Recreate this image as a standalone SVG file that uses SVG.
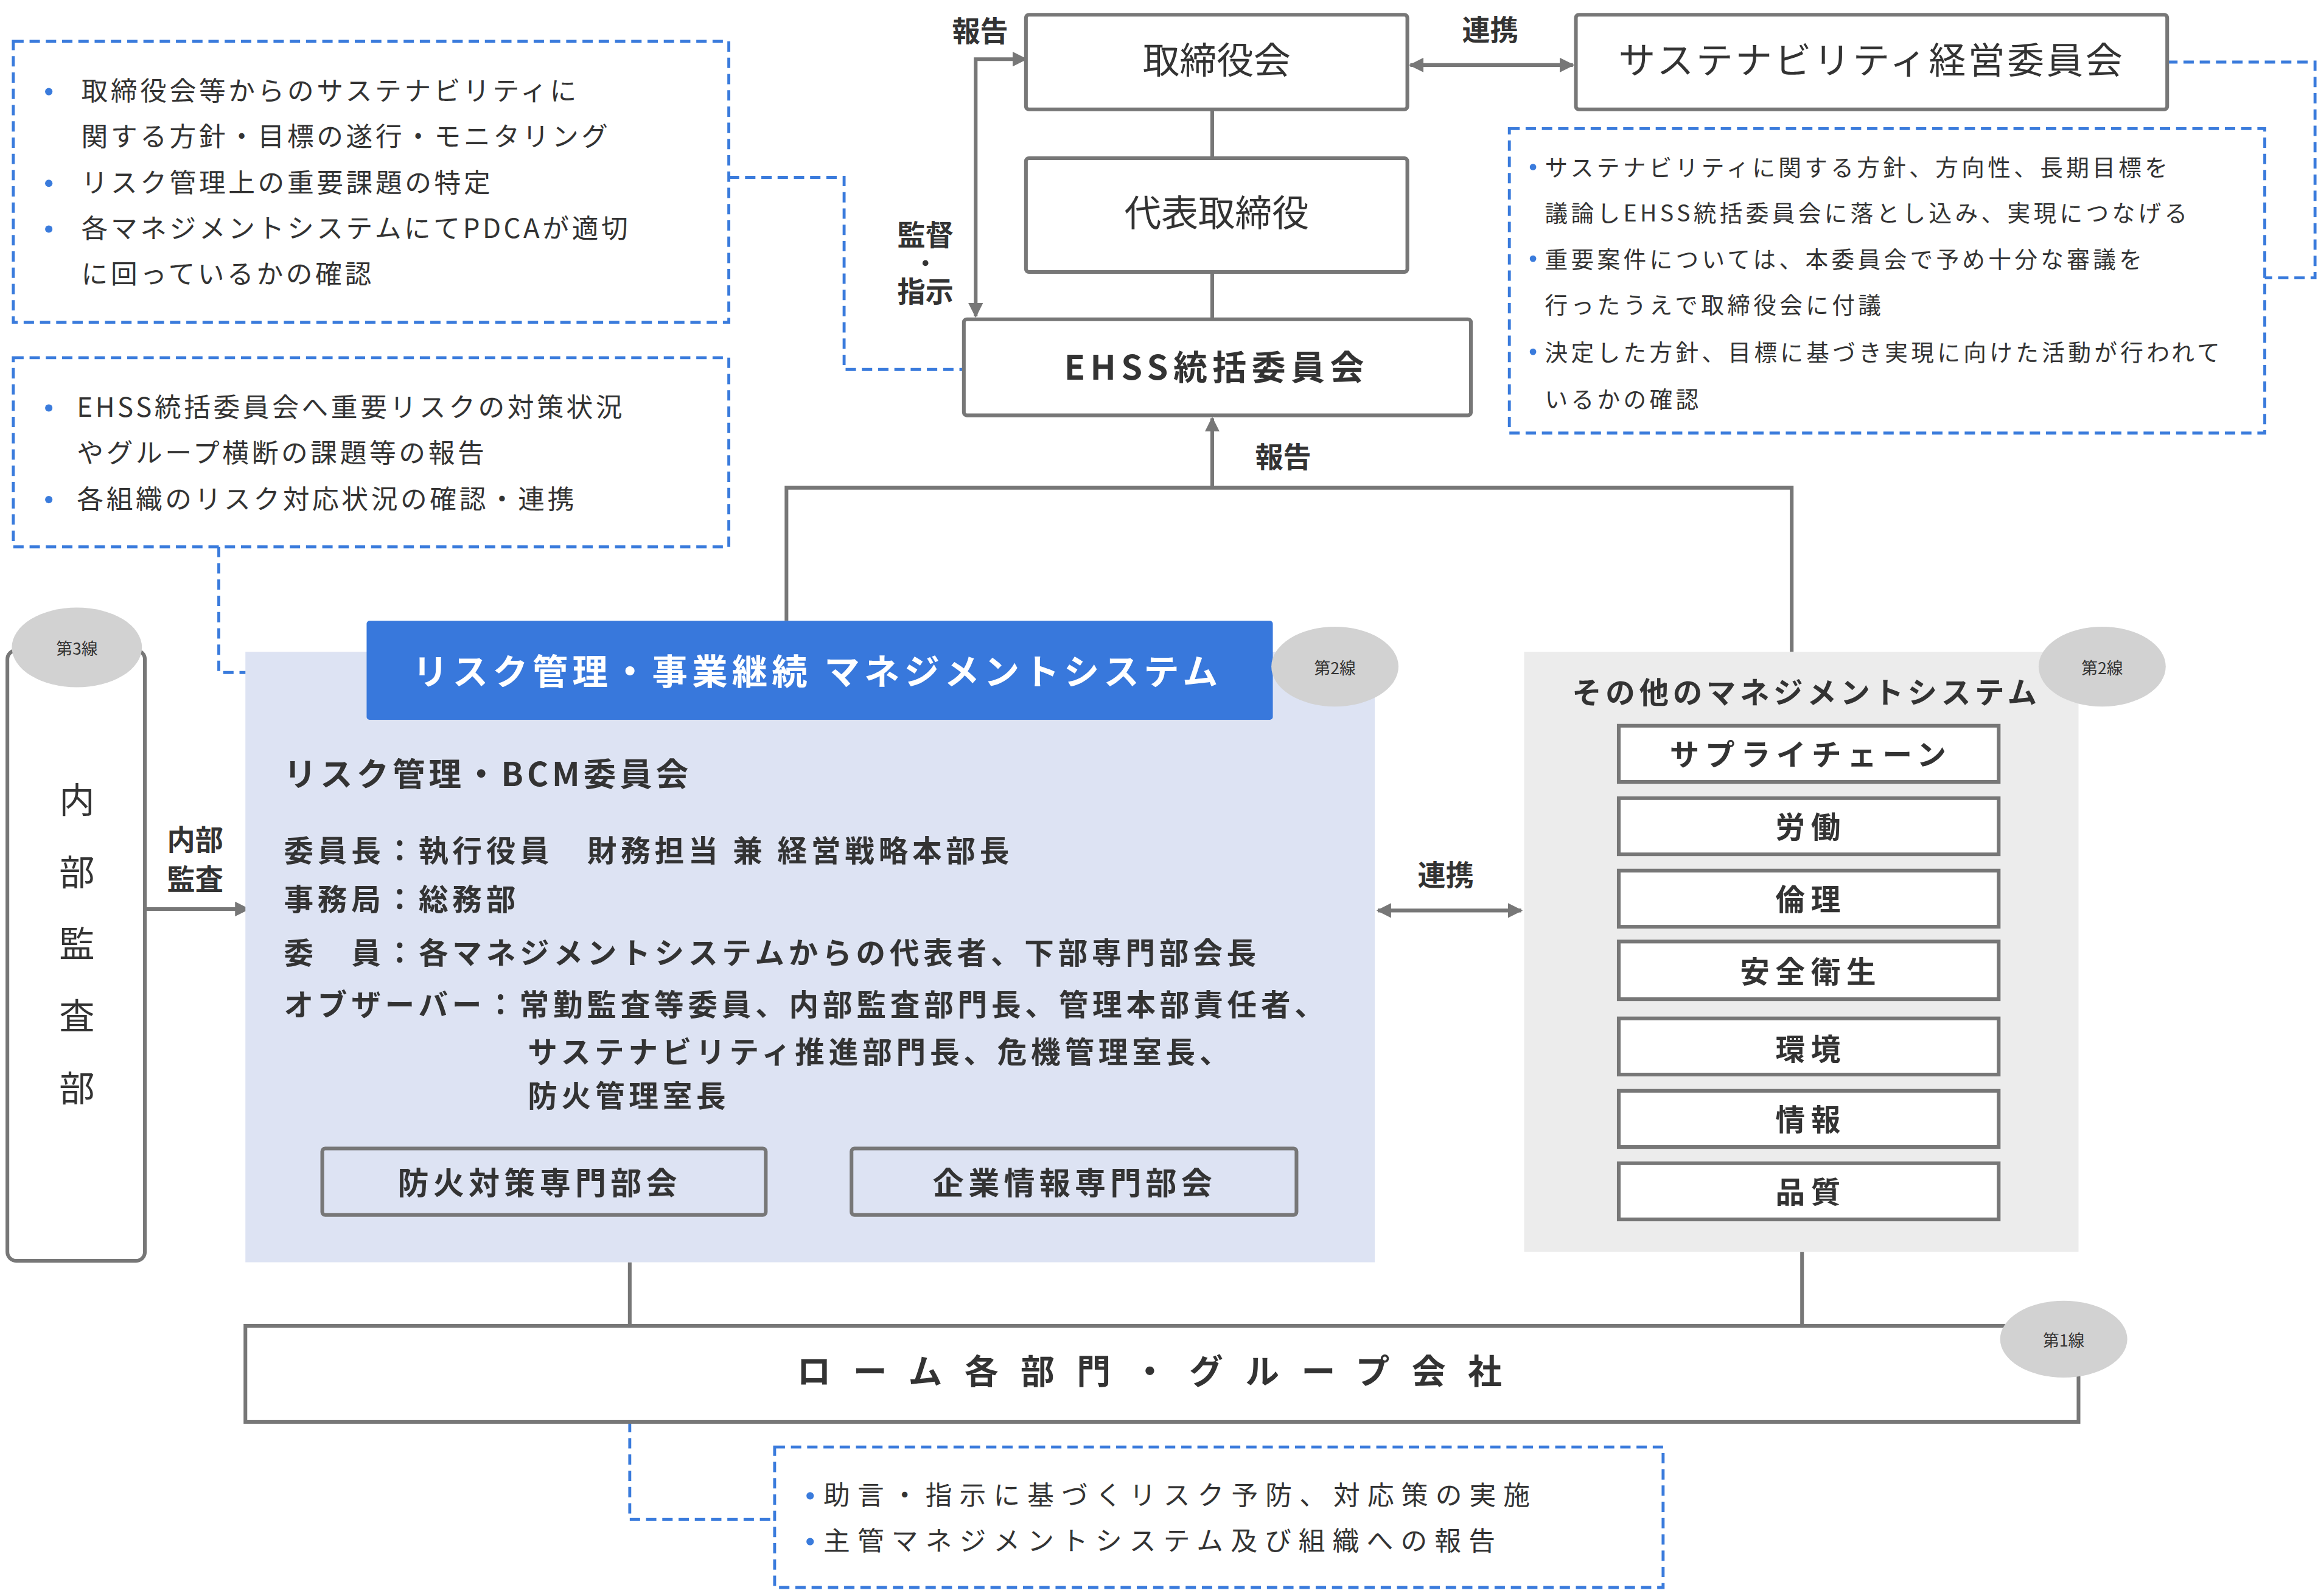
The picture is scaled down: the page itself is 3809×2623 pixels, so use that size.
<svg xmlns="http://www.w3.org/2000/svg" width="3809" height="2623" viewBox="0 0 3809 2623">
<defs>
<style>
text{font-family:"Noto Sans CJK JP","Noto Sans",sans-serif;fill:#333}
.b{font-weight:bold}
.box{fill:#fff;stroke:#777;stroke-width:2.5}
.ln{fill:none;stroke:#777;stroke-width:2.5}
.dash{fill:none;stroke:#3a7bdc;stroke-width:2;stroke-dasharray:7 4}
.circ{fill:#d2d2d2}
.bul{fill:#3a7bdc}
</style>
<marker id="ar" viewBox="0 0 10 10" refX="9" refY="5" markerWidth="4" markerHeight="4" orient="auto-start-reverse"><path d="M0,0L10,5L0,10z" fill="#777"/></marker>
</defs>
<rect width="3809" height="2623" fill="#fff"/>
<g transform="scale(2.4292)">
<g id="connectors">
<path class="ln" d="M694,40H660V214" marker-start="url(#ar)" marker-end="url(#ar)"/>
<path class="ln" d="M954,44H1064" marker-start="url(#ar)" marker-end="url(#ar)"/>
<path class="ln" d="M820,74V107M820,184V216"/>
<path class="ln" d="M820,330V283" marker-end="url(#ar)"/>
<path class="ln" d="M532,420V330H1212V441"/>
<path class="ln" d="M98,615H168" marker-end="url(#ar)"/>
<path class="ln" d="M932,616H1029" marker-start="url(#ar)" marker-end="url(#ar)"/>
<path class="ln" d="M426,854V897M1219,847V897"/>
<path class="dash" d="M493,120H571V250H652"/>
<path class="dash" d="M148,370V455H248"/>
<path class="dash" d="M1466,42H1566V188H1532"/>
<path class="dash" d="M426,962V1028H524"/>
<text class="b" x="663" y="28" font-size="19" text-anchor="middle">報告</text>
<text class="b" x="1008" y="27" font-size="19" text-anchor="middle">連携</text>
<text class="b" x="626" y="166" font-size="19" text-anchor="middle">監督</text>
<circle cx="626" cy="178" r="2" fill="#333"/>
<text class="b" x="626" y="204" font-size="19" text-anchor="middle">指示</text>
<text class="b" x="868" y="316" font-size="19" text-anchor="middle">報告</text>
<text class="b" x="132" y="575" font-size="19" text-anchor="middle">内部</text>
<text class="b" x="132" y="602" font-size="19" text-anchor="middle">監査</text>
<text class="b" x="978" y="599" font-size="19" text-anchor="middle">連携</text>
</g>
<g id="n-board"><rect class="box" x="694" y="10" width="258" height="64" rx="2"/><text x="823" y="50" font-size="25" text-anchor="middle">取締役会</text></g>
<g id="n-sust"><rect class="box" x="1066" y="10" width="400" height="64" rx="2"/><text x="1266" y="50" font-size="25" text-anchor="middle" letter-spacing="1.5">サステナビリティ経営委員会</text></g>
<g id="n-ceo"><rect class="box" x="694" y="107" width="258" height="77" rx="2"/><text x="823" y="153" font-size="25" text-anchor="middle">代表取締役</text></g>
<g id="n-ehss"><rect class="box" x="652" y="216" width="343" height="65" rx="2"/><text class="b" x="823" y="257" font-size="23" text-anchor="middle" letter-spacing="3.5">EHSS統括委員会</text></g>
<g id="n-note1"><rect class="dash" x="9" y="28" width="484" height="190"/>
<g font-size="18" letter-spacing="1.9"><circle class="bul" cx="33" cy="62" r="2.5"/><text x="55" y="68">取締役会等からのサステナビリティに</text><text x="55" y="99">関する方針・目標の遂行・モニタリング</text><circle class="bul" cx="33" cy="124" r="2.5"/><text x="55" y="130">リスク管理上の重要課題の特定</text><circle class="bul" cx="33" cy="155" r="2.5"/><text x="55" y="161">各マネジメントシステムにてPDCAが適切</text><text x="55" y="192">に回っているかの確認</text></g></g>
<g id="n-note2"><rect class="dash" x="9" y="242" width="484" height="128"/>
<g font-size="18" letter-spacing="1.9"><circle class="bul" cx="33" cy="276" r="2.5"/><text x="52" y="282">EHSS統括委員会へ重要リスクの対策状況</text><text x="52" y="313">やグループ横断の課題等の報告</text><circle class="bul" cx="33" cy="338" r="2.5"/><text x="52" y="344">各組織のリスク対応状況の確認・連携</text></g></g>
<g id="n-note3"><rect class="dash" x="1021" y="87" width="511" height="206"/>
<g font-size="15.5" letter-spacing="2.2"><circle class="bul" cx="1037" cy="113" r="2.2"/><text x="1045" y="119">サステナビリティに関する方針、方向性、長期目標を</text><text x="1045" y="150">議論しEHSS統括委員会に落とし込み、実現につなげる</text><circle class="bul" cx="1037" cy="175" r="2.2"/><text x="1045" y="181">重要案件については、本委員会で予め十分な審議を</text><text x="1045" y="212">行ったうえで取締役会に付議</text><circle class="bul" cx="1037" cy="238" r="2.2"/><text x="1045" y="244">決定した方針、目標に基づき実現に向けた活動が行われて</text><text x="1045" y="276">いるかの確認</text></g></g>
<g id="n-audit"><rect class="box" x="5" y="440" width="93" height="413" rx="6"/><ellipse class="circ" cx="52" cy="438" rx="44" ry="27"/><text x="52" y="443" font-size="11" text-anchor="middle">第3線</text>
<g font-size="24" text-anchor="middle"><text x="52" y="550">内</text><text x="52" y="599">部</text><text x="52" y="647">監</text><text x="52" y="696">査</text><text x="52" y="745">部</text></g></g>
<g id="n-risk"><rect x="166" y="441" width="764" height="413" fill="#dde3f3"/>
<rect x="248" y="420" width="613" height="67" rx="2" fill="#3878dc"/><text class="b" x="553" y="463" font-size="24" text-anchor="middle" style="fill:#fff" letter-spacing="3">リスク管理・事業継続 マネジメントシステム</text>
<ellipse class="circ" cx="903" cy="451" rx="43" ry="27"/><text x="903" y="456" font-size="11" text-anchor="middle">第2線</text>
<text class="b" x="192" y="532" font-size="22" letter-spacing="2.5">リスク管理・BCM委員会</text>
<g class="b" font-size="20" letter-spacing="2.8"><text x="192" y="583">委員長：執行役員　財務担当 兼 経営戦略本部長</text><text x="192" y="616">事務局：総務部</text><text x="192" y="652">委　員：各マネジメントシステムからの代表者、下部専門部会長</text><text x="192" y="687">オブザーバー：常勤監査等委員、内部監査部門長、管理本部責任者、</text><text x="357" y="719">サステナビリティ推進部門長、危機管理室長、</text><text x="357" y="749">防火管理室長</text></g>
<rect x="218" y="777" width="300" height="45" fill="none" stroke="#777" stroke-width="2.5" rx="2"/><text class="b" x="365" y="808" font-size="21" text-anchor="middle" letter-spacing="3">防火対策専門部会</text>
<rect x="576" y="777" width="301" height="45" fill="none" stroke="#777" stroke-width="2.5" rx="2"/><text class="b" x="727" y="808" font-size="21" text-anchor="middle" letter-spacing="3">企業情報専門部会</text></g>
<g id="n-other"><rect x="1031" y="441" width="375" height="406" fill="#ececec"/>
<ellipse class="circ" cx="1422" cy="451" rx="43" ry="27"/><text x="1422" y="456" font-size="11" text-anchor="middle">第2線</text>
<text class="b" x="1222" y="476" font-size="20" text-anchor="middle" letter-spacing="2.7">その他のマネジメントシステム</text>
<g class="b" font-size="20" text-anchor="middle" letter-spacing="4">
<rect class="box" x="1095" y="491" width="257" height="38"/><text x="1225" y="518">サプライチェーン</text>
<rect class="box" x="1095" y="540" width="257" height="38"/><text x="1225" y="567">労働</text>
<rect class="box" x="1095" y="589" width="257" height="38"/><text x="1225" y="616">倫理</text>
<rect class="box" x="1095" y="637" width="257" height="39"/><text x="1225" y="665">安全衛生</text>
<rect class="box" x="1095" y="689" width="257" height="38"/><text x="1225" y="717">環境</text>
<rect class="box" x="1095" y="738" width="257" height="38"/><text x="1225" y="765">情報</text>
<rect class="box" x="1095" y="787" width="257" height="38"/><text x="1225" y="814">品質</text></g></g>
<g id="n-group"><rect class="box" x="166" y="897" width="1240" height="65"/><text class="b" x="785" y="936" font-size="23" text-anchor="middle" letter-spacing="15">ローム各部門・グループ会社</text>
<ellipse class="circ" cx="1396" cy="906" rx="43" ry="26"/><text x="1396" y="911" font-size="11" text-anchor="middle">第1線</text></g>
<g id="n-note4"><rect class="dash" x="524" y="979" width="601" height="95"/>
<g font-size="18" letter-spacing="5"><circle class="bul" cx="548" cy="1012" r="2.5"/><text x="557" y="1018">助言・指示に基づくリスク予防、対応策の実施</text><circle class="bul" cx="548" cy="1043" r="2.5"/><text x="557" y="1049">主管マネジメントシステム及び組織への報告</text></g></g>
</g>
</svg>
